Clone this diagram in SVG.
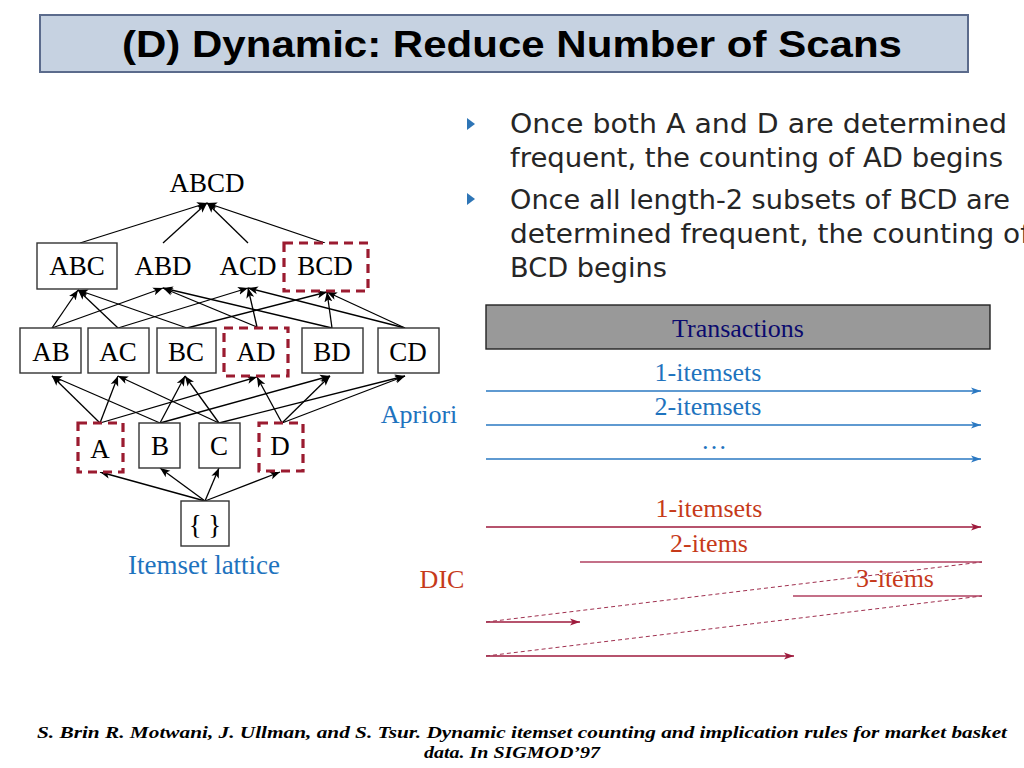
<svg xmlns="http://www.w3.org/2000/svg" width="1024" height="768" viewBox="0 0 1024 768">
<style>
.lat{font-family:"Liberation Serif","Times New Roman",serif;font-size:27px;fill:#000;text-anchor:middle}
.box{fill:#fff;stroke:#333;stroke-width:1.4}
.dbox{fill:#fff;stroke:#9b1b30;stroke-width:3.2;stroke-dasharray:9,6}
.edge{stroke:#000;stroke-width:1.3;fill:none;marker-end:url(#ah)}
.bl{stroke:#2a78c2;stroke-width:1.6;fill:none;marker-end:url(#ahb)}
.rd{stroke:#9e1a3c;stroke-width:1.6;fill:none;marker-end:url(#ahr)}
.rl{stroke:#b04060;stroke-width:1.4;fill:none}
.rdash{stroke:#a0304f;stroke-width:1;fill:none;stroke-dasharray:4,3}
.tb{font-family:"Liberation Serif","Times New Roman",serif;font-size:26px;fill:#1e73be;text-anchor:middle}
.tr{font-family:"Liberation Serif","Times New Roman",serif;font-size:26px;fill:#c63a1a;text-anchor:middle}
.bul{font-family:"DejaVu Sans","Liberation Sans",sans-serif;font-size:26px;fill:#262626}
.foot{font-family:"Liberation Serif","Times New Roman",serif;font-size:16px;font-style:italic;font-weight:bold;fill:#000}
</style>
<defs>
<marker id="ah" markerUnits="userSpaceOnUse" markerWidth="10" markerHeight="10" viewBox="0 0 10 10" refX="10" refY="5" orient="auto"><path d="M0,1 L10,5 L0,9 L2.5,5 z" fill="#000"/></marker>
<marker id="ahb" markerUnits="userSpaceOnUse" markerWidth="10" markerHeight="10" viewBox="0 0 10 10" refX="10" refY="5" orient="auto"><path d="M0,1.5 L10,5 L0,8.5 L2.5,5 z" fill="#2a78c2"/></marker>
<marker id="ahr" markerUnits="userSpaceOnUse" markerWidth="10" markerHeight="10" viewBox="0 0 10 10" refX="10" refY="5" orient="auto"><path d="M0,1.5 L10,5 L0,8.5 L2.5,5 z" fill="#9e1a3c"/></marker>
</defs>
<rect width="1024" height="768" fill="#fff"/>

<g id="title">
<rect x="40" y="15" width="928" height="57" fill="#c6d2e1" stroke="#5b6b8c" stroke-width="2"/>
<text x="512" y="57" text-anchor="middle" font-family="Liberation Sans, Arial, sans-serif" font-weight="bold" font-size="36" fill="#000" textLength="780" lengthAdjust="spacingAndGlyphs">(D) Dynamic: Reduce Number of Scans</text>
</g>

<g id="bullets">
<path d="M467,118 L475,124 L467,130 z" fill="#2e75b6"/>
<path d="M467,193 L475,199 L467,205 z" fill="#2e75b6"/>
<text class="bul" x="510" y="133" textLength="497" lengthAdjust="spacingAndGlyphs">Once both A and D are determined</text>
<text class="bul" x="510" y="167" textLength="493" lengthAdjust="spacingAndGlyphs">frequent, the counting of AD begins</text>
<text class="bul" x="510" y="209" textLength="500" lengthAdjust="spacingAndGlyphs">Once all length-2 subsets of BCD are</text>
<text class="bul" x="510" y="243" textLength="520" lengthAdjust="spacingAndGlyphs">determined frequent, the counting of</text>
<text class="bul" x="510" y="277" textLength="157" lengthAdjust="spacingAndGlyphs">BCD begins</text>
</g>

<g id="connectors">
<line class="edge" x1="80" y1="243" x2="207" y2="203"/>
<line class="edge" x1="163" y1="243" x2="207" y2="203"/>
<line class="edge" x1="248" y1="243" x2="207" y2="203"/>
<line class="edge" x1="325" y1="243" x2="207" y2="203"/>

<line class="edge" x1="52" y1="328" x2="78" y2="290"/>
<line class="edge" x1="118" y1="328" x2="78" y2="290"/>
<line class="edge" x1="187" y1="328" x2="78" y2="290"/>
<line class="edge" x1="52" y1="328" x2="163" y2="288"/>
<line class="edge" x1="257" y1="327" x2="163" y2="288"/>
<line class="edge" x1="332" y1="328" x2="163" y2="288"/>
<line class="edge" x1="118" y1="328" x2="248" y2="288"/>
<line class="edge" x1="257" y1="327" x2="248" y2="288"/>
<line class="edge" x1="405" y1="328" x2="248" y2="288"/>
<line class="edge" x1="187" y1="328" x2="327" y2="292"/>
<line class="edge" x1="332" y1="328" x2="327" y2="292"/>
<line class="edge" x1="405" y1="328" x2="327" y2="292"/>

<line class="edge" x1="100" y1="423" x2="52" y2="376"/>
<line class="edge" x1="160" y1="423" x2="52" y2="376"/>
<line class="edge" x1="100" y1="423" x2="118" y2="376"/>
<line class="edge" x1="219" y1="423" x2="118" y2="376"/>
<line class="edge" x1="160" y1="423" x2="185" y2="376"/>
<line class="edge" x1="219" y1="423" x2="185" y2="376"/>
<line class="edge" x1="100" y1="423" x2="257" y2="377"/>
<line class="edge" x1="282" y1="423" x2="257" y2="377"/>
<line class="edge" x1="160" y1="423" x2="330" y2="376"/>
<line class="edge" x1="282" y1="423" x2="330" y2="376"/>
<line class="edge" x1="219" y1="423" x2="405" y2="376"/>
<line class="edge" x1="282" y1="423" x2="405" y2="376"/>

<line class="edge" x1="205" y1="501" x2="100" y2="472"/>
<line class="edge" x1="205" y1="501" x2="160" y2="468"/>
<line class="edge" x1="205" y1="501" x2="219" y2="468"/>
<line class="edge" x1="205" y1="501" x2="280" y2="472"/>
</g>

<g id="node-ABCD"><text class="lat" x="207" y="192">ABCD</text></g>
<g id="node-ABC"><rect class="box" x="37" y="243" width="80" height="46"/><text class="lat" x="77" y="275">ABC</text></g>
<g id="node-ABD"><text class="lat" x="163" y="275">ABD</text></g>
<g id="node-ACD"><text class="lat" x="248" y="275">ACD</text></g>
<g id="node-BCD"><rect class="dbox" x="284" y="243" width="84" height="48"/><text class="lat" x="325" y="275">BCD</text></g>

<g id="node-AB"><rect class="box" x="20" y="328" width="61" height="45"/><text class="lat" x="51" y="361">AB</text></g>
<g id="node-AC"><rect class="box" x="88" y="328" width="61" height="45"/><text class="lat" x="118" y="361">AC</text></g>
<g id="node-BC"><rect class="box" x="157" y="328" width="59" height="45"/><text class="lat" x="186" y="361">BC</text></g>
<g id="node-AD"><rect class="dbox" x="224" y="328" width="64" height="48"/><text class="lat" x="256" y="361">AD</text></g>
<g id="node-BD"><rect class="box" x="302" y="328" width="61" height="45"/><text class="lat" x="332" y="361">BD</text></g>
<g id="node-CD"><rect class="box" x="378" y="328" width="61" height="45"/><text class="lat" x="408" y="361">CD</text></g>

<g id="node-A"><rect class="dbox" x="78" y="423" width="45" height="49"/><text class="lat" x="100" y="458">A</text></g>
<g id="node-B"><rect class="box" x="139" y="423" width="41" height="45"/><text class="lat" x="160" y="455">B</text></g>
<g id="node-C"><rect class="box" x="199" y="423" width="41" height="45"/><text class="lat" x="219" y="455">C</text></g>
<g id="node-D"><rect class="dbox" x="259" y="423" width="44" height="48"/><text class="lat" x="280" y="455">D</text></g>

<g id="node-empty"><rect class="box" x="181" y="501" width="48" height="45"/><text class="lat" x="205" y="534">{ }</text></g>
<text class="lat" x="204" y="574" fill="#1e73be" style="fill:#1e73be" font-size="26">Itemset lattice</text>

<g id="transactions">
<rect x="486" y="305" width="504" height="44" fill="#999999" stroke="#222" stroke-width="1.4"/>
<text x="738" y="337" text-anchor="middle" font-family="Liberation Serif, Times New Roman, serif" font-size="26" fill="#0b0b6e">Transactions</text>
</g>

<g id="apriori">
<text class="tb" x="419" y="423">Apriori</text>
<line class="bl" x1="486" y1="391" x2="981" y2="391"/>
<line class="bl" x1="486" y1="425" x2="981" y2="425"/>
<line class="bl" x1="486" y1="459" x2="981" y2="459"/>
<text class="tb" x="708" y="381">1-itemsets</text>
<text class="tb" x="708" y="415">2-itemsets</text>
<text class="tb" x="714" y="449">…</text>
</g>

<g id="dic">
<text class="tr" x="442" y="588">DIC</text>
<line class="rd" x1="486" y1="527" x2="981" y2="527"/>
<text class="tr" x="709" y="517">1-itemsets</text>
<text class="tr" x="709" y="552">2-items</text>
<line class="rl" x1="580" y1="562" x2="982" y2="562"/>
<text class="tr" x="895" y="587">3-items</text>
<line class="rl" x1="793" y1="596" x2="982" y2="596"/>
<line class="rd" x1="486" y1="622" x2="580" y2="622"/>
<line class="rd" x1="486" y1="656" x2="794" y2="656"/>
<line class="rdash" x1="486" y1="622" x2="982" y2="562"/>
<line class="rdash" x1="486" y1="656" x2="982" y2="596"/>
</g>

<g id="footer">
<text class="foot" x="37" y="738" textLength="970" lengthAdjust="spacingAndGlyphs">S. Brin R. Motwani, J. Ullman, and S. Tsur. Dynamic itemset counting and implication rules for market basket</text>
<text class="foot" x="512" y="758" text-anchor="middle" textLength="176" lengthAdjust="spacingAndGlyphs">data. In SIGMOD’97</text>
</g>
</svg>
